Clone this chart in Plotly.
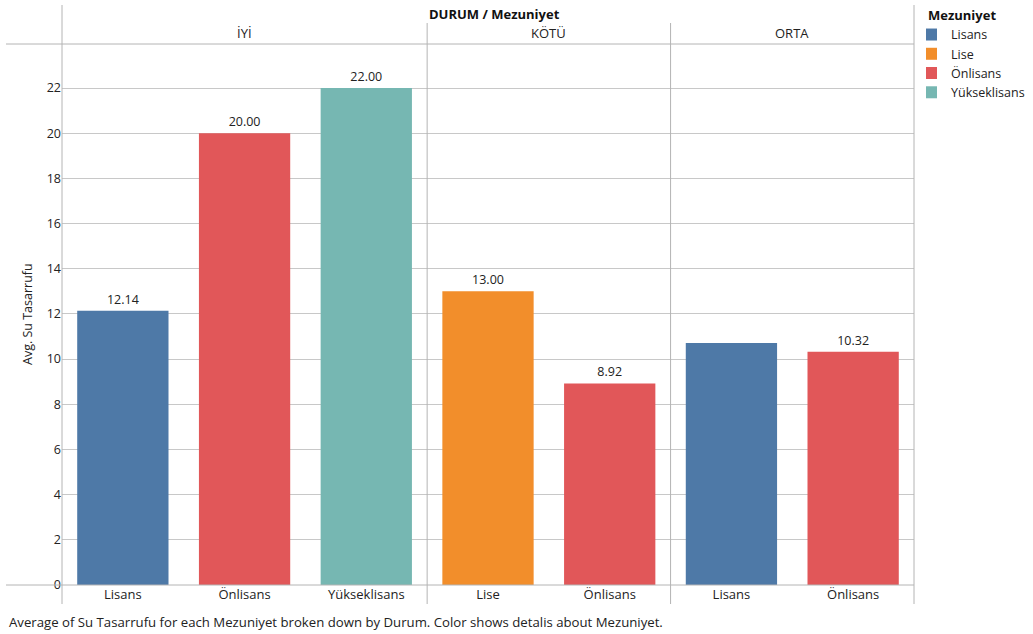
import plotly.graph_objects as go
from plotly.subplots import make_subplots

# Average water saving by education, split by condition
durum_panels = ["İYİ", "KÖTÜ", "ORTA"]
durum = ["İYİ", "İYİ", "İYİ", "KÖTÜ", "KÖTÜ", "ORTA", "ORTA"]
mezuniyet = ["Lisans", "Önlisans", "Yükseklisans", "Lise", "Önlisans", "Lisans", "Önlisans"]
su_tasarrufu = [12.14, 20.00, 22.00, 13.00, 8.92, 10.71, 10.32]
show_label = [True, True, True, True, True, False, True]

legend_order = ["Lisans", "Lise", "Önlisans", "Yükseklisans"]
colors = {
    "Lisans": "#4E79A7",
    "Lise": "#F28E2B",
    "Önlisans": "#E15759",
    "Yükseklisans": "#76B7B2",
}
y_ticks = list(range(0, 23, 2))

FONT = "Open Sans"
TXT = "#222222"
GRID = "#c8c8c8"
FRAME = "#b4b4b4"

# geometry of the figure in pixels
W, H = 1033, 634
L, R, T, B = 62, 914, 44, 585

counts = [durum.count(d) for d in durum_panels]
fig = make_subplots(rows=1, cols=len(durum_panels), shared_yaxes=True,
                    column_widths=counts, horizontal_spacing=0)

for cat in legend_order:
    first = True
    for pi, d in enumerate(durum_panels):
        xs, ys, ts = [], [], []
        for dd, m, v, s in zip(durum, mezuniyet, su_tasarrufu, show_label):
            if dd == d and m == cat:
                xs.append(m)
                ys.append(v)
                ts.append(f"{v:.2f}" if s else "")
        if not xs:
            continue
        fig.add_trace(go.Bar(
            x=xs, y=ys, text=ts, textposition="outside",
            textfont=dict(family=FONT, size=12.5, color=TXT),
            marker=dict(color=colors[cat], line=dict(width=0)),
            width=0.75, name=cat, legendgroup=cat, showlegend=first,
            cliponaxis=False,
        ), row=1, col=pi + 1)
        first = False

px_per_unit = (B - 88) / 22.0
y_max = (B - T) / px_per_unit

for pi, d in enumerate(durum_panels):
    cats = [m for dd, m in zip(durum, mezuniyet) if dd == d]
    fig.update_xaxes(type="category", categoryorder="array", categoryarray=cats,
                     showgrid=False, zeroline=False, showline=False, ticks="",
                     tickfont=dict(family=FONT, size=13, color=TXT),
                     row=1, col=pi + 1)
    fig.update_yaxes(range=[0, y_max], tickvals=y_ticks, showgrid=True,
                     gridcolor=GRID, gridwidth=1, zeroline=False, showline=False,
                     ticks="", showticklabels=(pi == 0),
                     tickfont=dict(family=FONT, size=12.5, color=TXT),
                     row=1, col=pi + 1)


def px(x):
    return (x - L) / (R - L)


def py(y):
    return (B - y) / (B - T)


shapes = []
# outer frame and panel dividers
for xv in (L, R):
    shapes.append(dict(type="line", xref="paper", yref="paper",
                       x0=px(xv), x1=px(xv), y0=py(5), y1=py(604),
                       line=dict(color=FRAME, width=1)))
acc = 0
for c in counts[:-1]:
    acc += c
    xv = L + (R - L) * acc / sum(counts)
    shapes.append(dict(type="line", xref="paper", yref="paper",
                       x0=px(xv), x1=px(xv), y0=py(23), y1=py(604),
                       line=dict(color=FRAME, width=1)))
for yv in (T, B):
    shapes.append(dict(type="line", xref="paper", yref="paper",
                       x0=px(6), x1=px(R), y0=py(yv), y1=py(yv),
                       line=dict(color=FRAME, width=1)))

annotations = []
acc = 0
for d, c in zip(durum_panels, counts):
    cx = L + (R - L) * (acc + c / 2) / sum(counts)
    acc += c
    annotations.append(dict(text=d, xref="paper", yref="paper", x=px(cx), y=py(33),
                            showarrow=False, xanchor="center", yanchor="middle",
                            font=dict(family=FONT, size=13, color=TXT)))
annotations.append(dict(text="<b>DURUM / Mezuniyet</b>", xref="paper", yref="paper",
                        x=px(494), y=py(14), showarrow=False,
                        xanchor="center", yanchor="middle",
                        font=dict(family=FONT, size=13, color="#111111")))
annotations.append(dict(text="Avg. Su Tasarrufu", xref="paper", yref="paper",
                        x=px(27), y=py(314), showarrow=False, textangle=-90,
                        xanchor="center", yanchor="middle",
                        font=dict(family=FONT, size=12.5, color=TXT)))
annotations.append(dict(
    text="Average of Su Tasarrufu for each Mezuniyet broken down by Durum. "
         "Color shows detalis about Mezuniyet.",
    xref="paper", yref="paper", x=px(7), y=py(622), showarrow=False,
    xanchor="left", yanchor="middle",
    font=dict(family=FONT, size=13.2, color=TXT)))

fig.update_layout(
    width=W, height=H,
    margin=dict(l=L, r=W - R, t=T, b=H - B, pad=0, autoexpand=False),
    paper_bgcolor="white", plot_bgcolor="white",
    barmode="overlay",
    font=dict(family=FONT, size=12.5, color=TXT),
    shapes=shapes, annotations=annotations,
    legend=dict(
        title=dict(text="<b>Mezuniyet</b>", font=dict(family=FONT, size=13, color="#111111")),
        x=px(926), y=py(3), xanchor="left", yanchor="top",
        font=dict(family=FONT, size=12.5, color=TXT),
        itemwidth=30, tracegroupgap=0, indentation=-15,
        bgcolor="rgba(0,0,0,0)",
    ),
)

fig.write_html("out.html")
